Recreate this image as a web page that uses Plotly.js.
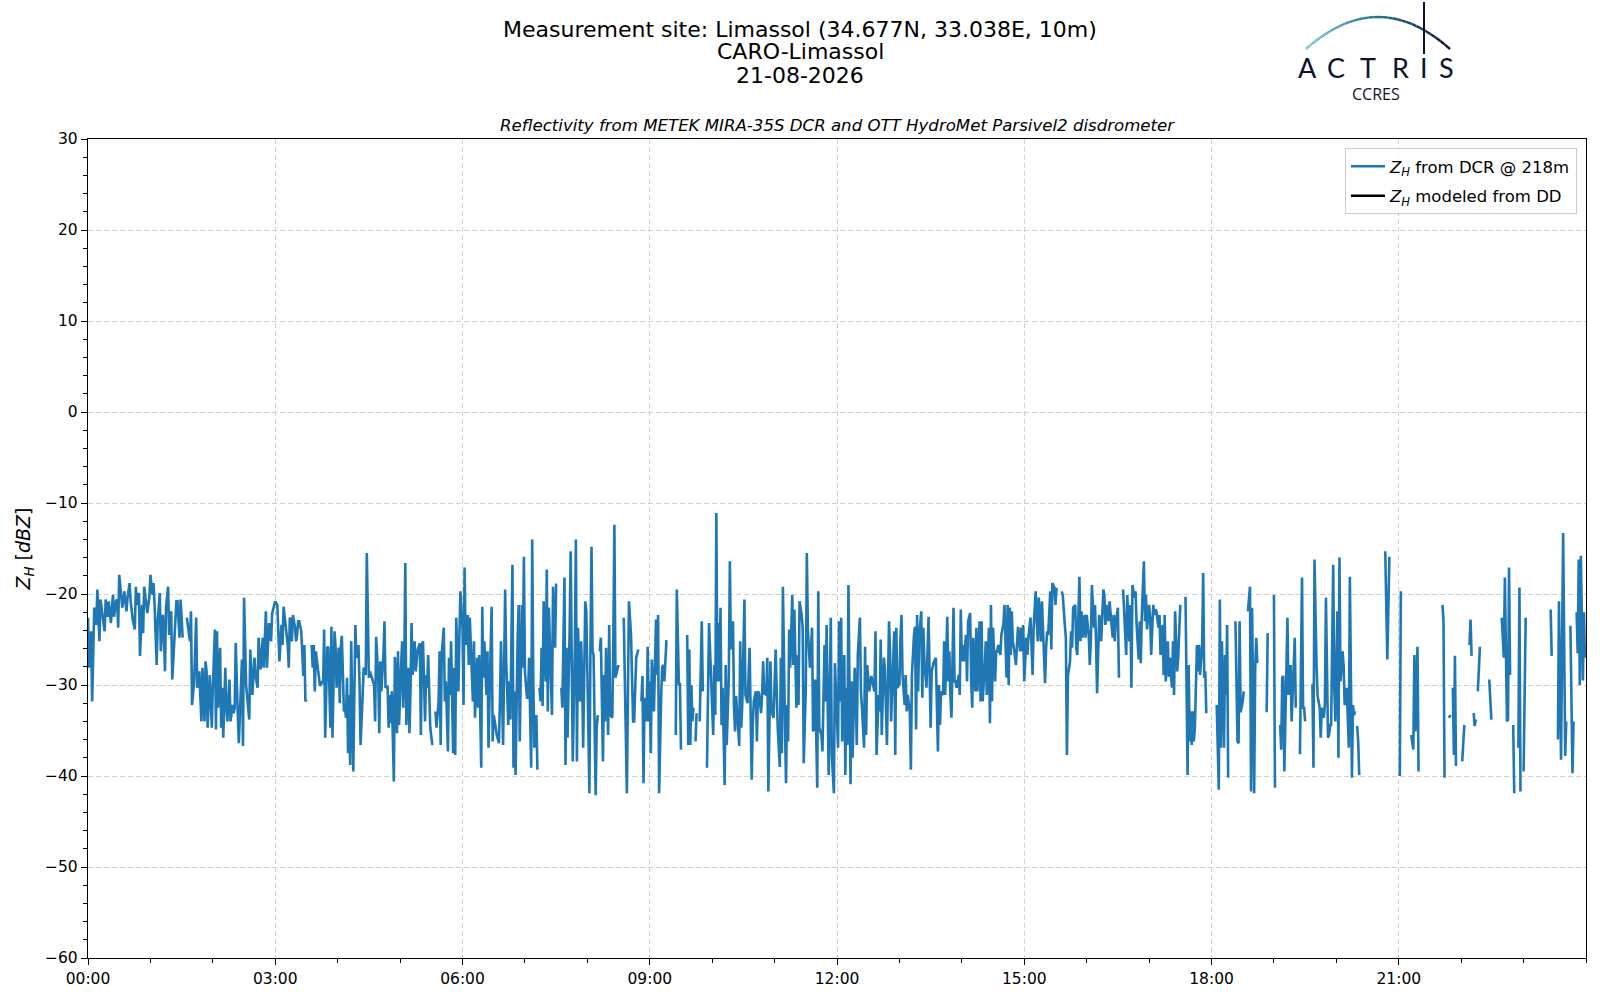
<!DOCTYPE html>
<html>
<head>
<meta charset="utf-8">
<script src="https://cdn.plot.ly/plotly-3.0.1.min.js"></script>
<style>
  html, body { margin: 0; padding: 0; background: #fff; }
  #reflectivity-plot { width: 1600px; height: 1000px; }
</style>
</head>
<body>
<div id="reflectivity-plot"></div>
<script>

// minutes after 00:00 UTC, null marks a gap in the radar record
const minuteOfDay = [
    0, 1, 3, 4, 6, 8, 9, 11, 12, 14, 16, 17, 19, 20, 22, 24, 25, 27, 28, 29,
    30, 33, 35, 37, 38, 40, 41, 43, 45, 46, 47, 49, 50, 52, 53, 54, 56, 57, 59, 60,
    62, 63, 64, 66, 67, 69, 70, 72, 73, 74, 75, 77, 78, 80, 81, 83, 85, 86, 88, 89,
    91, 93, 95, 97, 98, 99, 100, 102, 104, 105, 107, 109, 110, 112, 113, 114, 115, 117, 119, 120,
    122, 123, 124, 125, 127, 128, 129, 130, 132, 133, 134, 136, 137, 139, 140, 141, 142, 144, 145, 148,
    149, 150, 152, 155, 156, 158, 160, 161, 163, 164, 166, 168, 169, 171, 172, 174,
    176, 177, 179, 180, 182, 183, 184, 186, 187, 188, 190, 192, 193, 194, 195, 196, 197, 199, 200, 201,
    202, 203, 205, 206, 207, 208, 209, 210, 212, 215, 216, 217, 218, 219, 221, 222, 223, 225, 226, 227,
    228, 230, 231, 233, 234, 235, 237, 238, 239, 241, 242, 243, 244, 246, 247, 248, 249, 250, 251, 252,
    253, 255, 256, 257, 258, 260, 261, 262, 264, 265, 266, 267, 268, 270, 271, 275, 276, 277, 279, 280,
    281, 282, 284, 285, 286, 288, 289, 290, 291, 292, 294, 295, 296, 297, 298, 299, 301, 302, 303, 304,
    305, 306, 308, 309, 310, 311, 312, 314, 315, 316, 317, 319, 320, 321, 322, 324, 325, 326, 327, 329,
    330, 331, 332, 334, 335, 337, 338, 339, 340, 342, 343, 344, 346, 347, 348, 349, 351,
    352, 353, 354, 355, 356, 357, 358, 360, 361, 362, 363, 365, 366, 367, 369, 370, 371, 372, 374, 375,
    376, 378, 379, 380, 381, 383, 384, 385, 386, 388, 389, 390, 393, 395, 396, 397, 399, 400, 401, 402,
    404, 405, 406, 408, 409, 410, 411, 413, 414, 415, 417, 418, 419, 420, 422, 423, 424, 426, 427, 428,
    429, 431, 432, 433, 434, 435, 436, 437, 438, 440, 441, 442, 443, 445, 446, 447, 449, 450, 451, 453,
    455, 456, 458, 459, 460, 461, 463, 464, 465, 466, 468, 469, 470, 471, 473, 474, 475, 476, 478, 479,
    480, 482, 483, 484, 485, 486, 488, 489, 490, 491, 492, 493, 495, 496, 497, 498, 500, 501, 502, 504,
    505, 506, 507, 509, 510, 512, 515, 516, 518, 519, 520, 522, 523, 524, 525, 527,
    529, 530, 532, 533, 534, 535, 536, 537, 538, 539, 540, 541, 542, 544, 546, 547, 548, 549, 551, 552,
    553, 554, 556, 557, 558, 565, 566, 568, 569, 570, 572, 576, 577, 578, 579, 580, 581, 582, 583, 584,
    585, 587, 588, 590, 591, 593, 595, 597, 601, 602, 603, 604, 605, 606, 607, 608, 609, 610, 612, 613,
    614, 616, 617, 618, 620, 621, 622, 623, 625, 626, 627, 628, 629, 631, 632, 634, 636, 637, 638, 639,
    640, 642, 643, 644, 645, 647, 648, 649, 650, 652, 653, 654, 656, 657, 658, 659, 661, 662, 663, 665,
    666, 667, 668, 670, 671, 672, 673, 674, 675, 677, 678, 679, 681, 682, 683, 684, 686, 687, 688, 690,
    691, 692, 693, 694, 696, 697, 698, 699, 701, 702,
    703, 705, 706, 708, 709, 710, 712, 713, 714, 715, 717, 718, 719, 721, 722, 723, 724, 725, 727, 728,
    729, 730, 731, 733, 734, 735, 737, 738, 739, 740, 742, 743, 744, 746, 747, 748, 749, 751, 753, 756,
    757, 758, 760, 761, 762, 763, 765, 766, 768, 769, 770, 771, 772, 774, 775, 776, 777, 778, 780, 781,
    782, 783, 785, 786, 787, 788, 790, 791, 792, 794, 795, 796, 797, 798, 799, 801, 802, 803, 804, 806,
    807, 808, 810, 811, 813, 815, 817, 818, 819, 820, 822, 823, 824, 826, 827, 828, 829, 830, 832, 833,
    834, 835, 837, 838, 839, 840, 841, 842, 844, 845, 846, 848, 849, 850, 851, 853, 854, 855, 857, 858,
    859, 860, 862, 863, 864, 866, 867, 868, 869, 870, 872, 873, 874, 875, 877, 878,
    880, 881, 882, 883, 884, 885, 886, 887, 888, 889, 890, 892, 893, 894, 896, 897, 898, 899, 900, 902,
    903, 904, 906, 907, 908, 909, 911, 912, 913, 914, 916, 917, 918, 920, 921, 922, 923, 925, 926, 927,
    929, 930, 931, 932, 936, 937, 939, 940, 941, 942, 944, 945, 946, 947, 949, 950, 951, 953, 954, 955,
    956, 958, 959, 960, 962, 963, 964, 965, 967, 968, 969, 970, 972, 973, 974, 976, 977, 978, 979, 981,
    982, 983, 985, 986, 987, 988, 990, 991, 993, 995, 997, 998, 999, 1001, 1002, 1003, 1004, 1006, 1007, 1008,
    1010, 1011, 1012, 1013, 1015, 1016, 1017, 1018, 1020, 1021, 1022, 1024, 1025, 1026, 1027, 1029, 1030, 1031, 1033, 1034,
    1035, 1036, 1038, 1039, 1040, 1042, 1043, 1044, 1045, 1047, 1048, 1049, 1050, 1052, 1055,
    1057, 1058, 1059, 1060, 1061, 1062, 1063, 1064, 1066, 1067, 1068, 1069, 1071, 1072, 1073, 1074, 1075, 1077, 1085, 1087,
    1088, 1089, 1090, 1092, 1093, 1094, 1095, 1096, 1098, 1103, 1105, 1106, 1107, 1108, 1110, 1111, 1112, 1115, 1117, 1118,
    1119, 1121, 1122, 1123, 1124, 1126, 1133, 1134, 1136, 1140, 1141, 1143, 1146, 1147, 1148, 1149, 1150, 1152, 1153, 1154,
    1156, 1157, 1158, 1160, 1161, 1163, 1165, 1167, 1168, 1169, 1170, 1172, 1176, 1177, 1178, 1179, 1181, 1182, 1184, 1185,
    1186, 1188, 1189, 1190, 1192, 1193, 1194, 1195, 1197, 1198, 1199, 1201, 1202, 1203, 1204, 1206, 1207, 1208, 1210, 1211,
    1212, 1213, 1215, 1216, 1217, 1218, 1219, 1220, 1221, 1222, 1224,
    1247, 1249, 1251, 1253, 1261, 1262, 1264, 1272, 1274, 1275, 1276, 1278, 1279, 1281, 1302, 1303, 1304, 1306, 1308, 1310,
    1311, 1312, 1313, 1314, 1315, 1317, 1321, 1323, 1325, 1328, 1329, 1330, 1331, 1332, 1333, 1334, 1335, 1336, 1338, 1340,
    1347, 1349, 1351, 1359, 1361, 1362, 1364, 1365, 1366, 1367, 1368, 1370, 1371, 1373, 1375, 1376, 1377, 1379, 1380, 1382,
    1384, 1406, 1407, 1409, 1413, 1414, 1416, 1418, 1420, 1421, 1423, 1425, 1427, 1428, 1430, 1431, 1432, 1433, 1434, 1435,
    1436, 1437, 1438, 1439
];

// Z_H from the cloud radar at 218 m [dBZ]
const zhDcr = [
    -22.6, -28.1, -24.1, -31.8, -21.5, -23.4, -19.5, -25.2, -20.6, -22.6, -24.1, -20.6, -22.5, -20.8, -23.2, -20.1, -22.5, -20.8, -20.6, -23.7,
    -17.9, -21.5, -19.7, -21.9, -20.4, -18.8, -20.8, -22.8, -23.9, -19.2, -21.2, -19.9, -26.8, -21.2, -24.3, -19.2, -21.5, -22.1, -20.3, -17.9,
    -20.1, -18.8, -21.2, -27.8, -23.0, -19.9, -26.3, -22.3, -24.5, -28.5, -21.5, -19.2, -24.5, -21.9, -29.4, -25.6, -20.8, -20.8, -24.8, -20.6,
    -24.8, null, -22.6, -24.8, -25.2, -21.9, -32.2, -29.6, -22.6, -30.3, -28.5, -34.0, -28.1, -34.0, -27.4, -28.5, -34.7, -28.9, -34.7, -30.3,
    -23.9, -34.9, -24.1, -32.5, -25.9, -34.7, -30.3, -35.8, -28.1, -32.5, -34.0, -29.4, -34.0, -32.2, -33.1, -32.5, -25.4, -33.3, -36.4, -27.2,
    -36.7, -20.4, -30.0, -33.8, -26.1, -31.1, -27.0, -28.9, -30.3, -24.8, -28.3, -24.8, -28.1, -21.9, -28.1, -23.2,
    -25.2, -22.1, -21.2, -20.8, -21.2, -25.2, -27.4, -23.4, -25.6, -21.4, -23.7, -25.6, -28.1, -22.6, -22.8, -25.2, -22.3, -23.7, -25.2, -24.5,
    -23.0, -23.0, -24.1, -25.9, -29.0, -25.6, -31.8, -31.6, null, -25.6, -28.1, -25.6, -30.7, -26.3, -28.1, -28.9, -30.1, -29.6, -29.9, -23.9,
    -35.8, -25.8, -25.9, -34.7, -23.6, -35.8, -24.1, -25.9, -30.3, -25.9, -32.0, -25.9, -24.6, -32.9, -32.5, -33.6, -29.2, -37.5, -31.1, -38.8,
    -25.2, -39.5, -32.9, -23.4, -27.0, -25.6, -29.8, -36.6, -31.1, -28.1, -28.3, -28.9, -15.5, -29.2, -28.5, -30.0, -34.0, -24.7, -29.2, -35.3,
    -27.4, -30.7, -26.7, -23.0, -30.3, -30.1, -34.7, -31.1, -34.2, -30.7, -40.6, -26.9, -29.6, -35.3, -26.3, -34.4, -27.8, -25.2, -32.5, -28.5,
    -16.6, -34.4, -28.1, -35.3, -30.7, -23.2, -28.9, -25.2, -28.5, -26.7, -26.1, -25.4, -35.5, -25.6, -25.2, -34.0, -28.9, -30.3, -26.7, -34.7,
    -35.5, -36.6, null, -32.9, -34.7, -31.8, -26.3, -36.6, -26.7, -23.7, -31.8, -29.6, -37.3, -27.0, -31.1, -25.2, -37.5,
    -28.1, -37.7, -22.6, -26.7, -30.7, -24.8, -19.7, -23.7, -32.2, -17.1, -25.6, -22.3, -27.8, -22.6, -27.8, -31.8, -25.2, -33.6, -27.0, -32.5,
    -26.7, -39.1, -21.4, -29.2, -25.2, -31.1, -26.3, -36.9, -31.1, -21.4, -36.2, -33.3, -35.5, -36.4, -31.8, -25.2, -36.6, -24.5, -19.5, -27.4,
    -34.4, -29.6, -33.8, -16.8, -39.1, -30.7, -39.9, -24.8, -21.2, -36.2, -21.2, -28.1, -15.9, -28.5, -31.4, -31.4, -27.0, -39.1, -14.0, -28.9,
    -36.9, -33.3, -39.3, null, -30.3, -31.8, -25.9, -32.3, -20.8, -29.6, -17.3, -32.9, -21.5, -31.8, -33.3, -19.2, -25.9, -19.0, -19.0, null,
    -30.3, -32.5, -18.2, -38.8, -25.9, -35.8, -23.9, -15.3, -27.4, -38.4, -25.6, -14.0, -38.4, -23.7, -31.8, -25.2, -29.2, -36.9, -20.8, -21.9,
    -28.5, -41.9, -25.9, -14.8, -26.3, -26.7, -42.1, -34.7, -33.3, null, -26.3, -24.8, -38.4, -28.9, -34.0, -25.9, -35.5, -23.4, -33.3, -33.6,
    -24.8, -12.4, -29.2, -28.1, -27.8, null, -22.6, -30.7, -41.9, -31.4, -20.8, -24.5, -29.6, -34.0, -34.0, -27.0,
    -26.1, null, -31.8, -29.0, -40.8, -31.4, -31.8, -34.0, -25.8, -34.0, -29.6, -37.5, -27.2, -32.9, -22.8, -28.9, -22.3, -41.9, -31.1, -28.0,
    -27.8, -29.6, -25.2, -25.2, null, -35.5, -19.5, -29.9, -29.9, -37.1, null, -24.5, -36.6, -26.1, -36.6, -30.0, -34.0, -32.5, null, -36.2,
    -33.1, null, -34.0, -23.0, -30.7, null, -39.1, -23.2, -35.5, -27.8, -33.3, -11.1, -29.6, -23.2, -29.6, -21.5, -34.4, -30.3, -41.0, -27.8,
    -36.6, -29.0, -16.4, -26.1, -23.0, -32.5, -35.1, -31.2, -34.7, -36.7, -25.2, -34.7, -31.9, -20.6, -31.1, -32.0, -25.9, -32.9, -40.4, -34.4,
    -31.8, -30.7, -36.2, -30.7, -30.9, -33.1, -31.1, -27.4, -30.9, -31.1, -27.0, -41.7, -27.4, -32.9, -33.3, -33.6, -26.1, -30.9, -34.7, -39.0,
    -27.0, -37.5, -19.2, -34.7, -40.8, -32.2, -36.2, -23.9, -28.1, -20.1, -27.8, -21.7, -32.5, -26.7, -32.2, -20.8, -22.3, -23.7, -38.6, -30.3,
    -15.5, -24.0, -25.9, -28.1, -23.7, -35.1, -34.7, -29.4, -41.3, -19.7,
    -34.7, -35.5, -37.3, -25.6, -31.8, -23.4, -39.9, -27.0, -22.6, -37.7, -41.9, -27.6, -31.4, -36.9, -23.0, -31.8, -22.6, -36.2, -26.7, -39.9,
    -30.3, -36.6, -19.0, -40.9, -29.6, -38.0, -28.1, -30.7, -36.6, -26.7, -22.6, -30.7, -32.5, -36.9, -25.8, -35.5, -27.8, -30.7, -29.0, -30.7,
    -24.1, -37.7, -31.1, -32.9, -25.0, -35.5, -27.0, -28.1, -36.6, -31.1, -23.0, -26.3, -34.0, -27.4, -24.1, -37.7, -23.7, -30.3, -29.9, -24.8,
    -22.3, -28.9, -32.2, -28.9, -32.9, -31.1, -32.9, -39.3, -28.9, -24.5, -23.6, -34.9, -22.3, -30.7, -24.8, -21.9, -31.4, -23.7, -27.4, -30.3,
    -24.8, -22.5, -34.7, -28.5, -27.5, -27.0, -37.3, -30.0, -34.4, -30.7, -31.1, -25.2, -31.1, -22.5, -29.6, -26.3, -31.1, -33.6, -21.5, -29.6,
    -29.6, -30.3, -28.9, -31.1, -21.7, -27.4, -25.6, -27.4, -24.5, -29.6, -23.0, -22.1, -29.6, -32.5, -24.8, -30.7, -23.7, -30.7, -23.0, -31.8,
    -23.0, -31.8, -28.1, -25.2, -31.1, -23.7, -34.2, -21.2, -31.8, -23.7, -29.6, -26.3, -26.3, -25.6, -26.7, -24.5,
    -23.2, -21.2, -25.6, -29.2, -21.2, -30.0, -21.5, -26.7, -21.9, -25.2, -25.9, -27.8, -25.6, -23.6, -26.3, -23.7, -26.3, -23.4, -29.6, -24.8,
    -26.7, -24.8, -22.6, -26.7, -28.9, -23.7, -19.7, -23.0, -25.2, -20.4, -25.2, -20.8, -24.1, -29.8, -25.9, -24.1, -24.5, -19.7, -26.1, -18.8,
    -19.3, -21.2, -19.3, null, -19.7, -20.1, -23.4, -24.8, -37.7, -28.9, -27.4, -24.1, -25.9, -21.5, -21.2, -25.9, -26.7, -18.1, -25.2, -21.9,
    -24.8, -22.3, -24.8, -22.3, -24.5, -27.8, -25.2, -19.0, -23.7, -21.2, -25.2, -30.9, -22.3, -23.0, -25.2, -19.5, -20.1, -23.4, -21.2, -23.0,
    -20.8, -22.3, -24.8, -22.3, -25.2, -23.0, -21.5, -29.2, null, -19.5, -24.5, -26.7, -20.1, -25.2, -21.2, -30.3, -19.0, -20.4, -19.7, -23.4,
    -27.2, -23.0, -27.6, -22.3, -16.4, -23.0, -20.1, -23.9, -21.2, -22.6, -26.7, -21.2, -22.3, -21.7, -21.9, -23.7, -22.3, -26.7, -23.4, -28.9,
    -22.3, -29.6, -25.2, -29.1, -27.0, -30.3, -25.2, -31.1, -21.9, -28.5, -27.0, -24.5, -21.2, null, -20.3,
    -39.9, -27.8, -36.2, -32.9, -36.6, -32.9, -36.2, -34.7, -25.6, -28.5, -25.6, -28.9, -25.6, -17.7, -29.2, -28.5, -33.1, null, -32.2, -41.5,
    -20.6, -36.9, -25.2, -36.9, -26.7, -31.1, -23.4, -40.2, null, -23.0, -36.2, -36.4, -23.0, -33.0, -31.8, -30.7, null, -21.9, -19.2, -41.7,
    -21.5, -41.9, -28.1, -24.8, -27.6, null, -33.0, -24.3, null, -20.1, -41.3, null, -34.4, -37.1, -29.2, -29.0, -39.5, -30.3, -22.6, -31.1,
    -27.8, -34.0, -30.3, -24.8, -32.5, null, -37.6, -18.2, -32.5, -32.5, -34.0, null, -30.0, -30.0, -39.1, -16.2, -28.0, -31.2, -32.5, -35.8,
    -32.5, -33.6, -32.0, -20.4, -35.8, -35.5, -34.4, -34.4, -16.8, -30.3, -34.0, -21.9, -38.0, -16.0, -29.6, -26.3, -27.9, -32.2, -30.3, -34.4,
    -36.9, -18.1, -40.2, -32.2, -33.3, -32.9, null, -34.5, -36.2, -39.9, null,
    -15.3, -27.2, -15.9, null, -40.0, -19.7, null, -35.5, -37.1, -26.7, -35.1, -25.8, -39.5, null, -21.2, -23.0, -40.2, null, -33.6, -33.3,
    null, -30.3, -37.7, -26.8, -38.9, null, -38.4, -34.4, null, -25.6, -22.8, -26.8, null, -33.1, -34.5, -33.8, null, -30.7, -25.8, null,
    -29.4, -33.8, null, -22.6, -27.0, -18.2, -34.0, -33.8, -17.1, -28.9, null, -34.4, -41.9, null, -36.9, -19.3, -41.7, null, -39.5, -22.6,
    null, -21.7, -26.8, null, -36.0, -20.8, -38.2, -13.3, -37.8, -34.0, null, -23.5, -39.7, -34.0, null, -22.0, -26.5, -16.2, -30.0, -15.8,
    -25.0, -29.5, -22.0, -27.0
];

// the disdrometer model gave no value on this day: one empty sample keeps it in the legend
const modeledMinute = [0];
const zhModeled = [null];

const hourTickLabels = ["00:00", "03:00", "06:00", "09:00", "12:00", "15:00", "18:00", "21:00"];

const day = "2026-08-21";


function clock(minutes) {

    const h = Math.floor(minutes / 60);
    const m = minutes % 60;

    return day + " " + String(h).padStart(2, "0") + ":" + String(m).padStart(2, "0");

}

// figure pixels -> paper units, for the header and the logo
const plotLeft = 88, plotRight = 1586, plotTop = 139, plotBottom = 958;

const px = v => (v - plotLeft) / (plotRight - plotLeft);
const py = v => (plotBottom - v) / (plotBottom - plotTop);

const navy = "#0e1232";

const traces = [];

traces.push({

    x: minuteOfDay.map(clock),

    y: zhDcr,

    mode: "lines",

    name: "<i>Z</i><sub><i>H</i></sub> from DCR @ 218m",

    legendgroup: "dcr",

    line: { color: "#1f77b4", width: 2.6 },

    connectgaps: false

});

traces.push({

    x: modeledMinute.map(clock),

    y: zhModeled,

    mode: "lines",

    name: "<i>Z</i><sub><i>H</i></sub> modeled from DD",

    legendgroup: "dd",

    line: { color: "black", width: 2.6 },

    showlegend: true

});


// ACTRIS logo: gradient arc, mast line, letters

function mix(a, b, t) {

    const pa = [1, 3, 5].map(i => parseInt(a.slice(i, i + 2), 16));
    const pb = [1, 3, 5].map(i => parseInt(b.slice(i, i + 2), 16));

    return "rgb(" + pa.map((c, k) => Math.round(c + (pb[k] - c) * t)).join(",") + ")";

}

const shapes = [];

const arcStart = [1306, 49], arcCtrl = [1378, -15], arcEnd = [1450, 49];
const steps = 30;

for (let i = 0; i < steps; i++) {

    const seg = [i / steps, (i + 1) / steps].map(t => [
        (1 - t) * (1 - t) * arcStart[0] + 2 * t * (1 - t) * arcCtrl[0] + t * t * arcEnd[0],
        (1 - t) * (1 - t) * arcStart[1] + 2 * t * (1 - t) * arcCtrl[1] + t * t * arcEnd[1]
    ]);

    const t = i / steps;
    const color = t < 0.5 ? mix("#7ccaca", "#1f6f86", t / 0.5) : mix("#1f6f86", navy, (t - 0.5) / 0.5);

    shapes.push({
        type: "line", xref: "paper", yref: "paper",
        x0: px(seg[0][0]), y0: py(seg[0][1]), x1: px(seg[1][0]), y1: py(seg[1][1]),
        line: { color: color, width: 2.4 }
    });

}

shapes.push({
    type: "line", xref: "paper", yref: "paper",
    x0: px(1424), y0: py(2), x1: px(1424), y1: py(54),
    line: { color: navy, width: 2 }
});

const annotations = [];

const headerLines = [
    ["Measurement site: Limassol (34.677N, 33.038E, 10m)", 29],
    ["CARO-Limassol", 52],
    ["21-08-2026", 75]
];

headerLines.forEach(([text, y]) => annotations.push({
    text: text, xref: "paper", yref: "paper", x: px(800), y: py(y),
    xanchor: "center", yanchor: "middle", showarrow: false,
    font: { family: "DejaVu Sans", size: 22, color: "black" }
}));

annotations.push({
    text: "<i>Reflectivity from METEK MIRA-35S DCR and OTT HydroMet Parsivel2 disdrometer</i>",
    xref: "paper", yref: "paper", x: 0.5, y: py(125),
    xanchor: "center", yanchor: "middle", showarrow: false,
    font: { family: "DejaVu Sans", size: 16.6, color: "black" }
});

[["A", 1307], ["C", 1336], ["T", 1368], ["R", 1400], ["I", 1424], ["S", 1446]].forEach(([letter, x]) =>
    annotations.push({
        text: letter, xref: "paper", yref: "paper", x: px(x), y: py(67),
        xanchor: "center", yanchor: "middle", showarrow: false,
        font: { family: "Lato", size: 27, color: navy }
    })
);

annotations.push({
    text: "CCRES", xref: "paper", yref: "paper", x: px(1376), y: py(94),
    xanchor: "center", yanchor: "middle", showarrow: false,
    font: { family: "Open Sans", size: 16, color: navy }
});


Plotly.newPlot(

    "reflectivity-plot",

    traces,

    {

        width: 1600,
        height: 1000,

        margin: { l: plotLeft, r: 1600 - plotRight, t: plotTop, b: 1000 - plotBottom },

        paper_bgcolor: "white",
        plot_bgcolor: "white",

        font: { family: "DejaVu Sans", size: 15, color: "black" },

        showlegend: true,

        legend: {
            x: px(1577), y: py(148), xanchor: "right", yanchor: "top",
            bgcolor: "rgba(255,255,255,0.85)",
            bordercolor: "#cccccc", borderwidth: 1,
            font: { family: "DejaVu Sans", size: 16.5, color: "black" },
            itemwidth: 34,
            traceorder: "grouped",
            tracegroupgap: 5
        },

        xaxis: {
            type: "date",
            range: [clock(0), day + " 23:59:59"],
            tickvals: hourTickLabels.map(l => day + " " + l),
            ticktext: hourTickLabels,
            ticks: "outside", ticklen: 6, tickcolor: "black",
            minor: { dtick: 3600000, tick0: clock(0), ticks: "outside", ticklen: 3.5, tickcolor: "black", showgrid: false },
            showgrid: true, gridcolor: "#d0d0d0", griddash: "5px,3px", gridwidth: 1,
            showline: true, linecolor: "black", linewidth: 1.2, mirror: true,
            zeroline: false,
            tickfont: { size: 15.5 }
        },

        yaxis: {
            range: [-60, 30],
            dtick: 10,
            ticks: "outside", ticklen: 6, tickcolor: "black",
            minor: { dtick: 2, ticks: "outside", ticklen: 3.5, tickcolor: "black", showgrid: false },
            showgrid: true, gridcolor: "#d0d0d0", griddash: "5px,3px", gridwidth: 1,
            showline: true, linecolor: "black", linewidth: 1.2, mirror: true,
            zeroline: false,
            tickfont: { size: 15.5 },
            title: {
                text: "<i>Z</i><sub><i>H</i></sub> [<i>dBZ</i>]",
                font: { size: 19 },
                standoff: 9
            }
        },

        shapes: shapes,

        annotations: annotations

    },

    { displayModeBar: false, staticPlot: true }

);

</script>
</body>
</html>
